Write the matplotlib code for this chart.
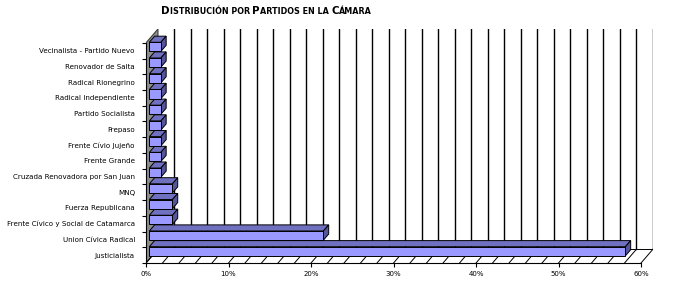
import numpy as np
import matplotlib
matplotlib.use("Agg")
import matplotlib.pyplot as plt
from matplotlib.patches import Polygon

# data (percent of seats), bottom to top
partidos = ["Justicialista", "Union Cívica Radical", "Frente Cívico y Social de Catamarca",
            "Fuerza Republicana", "MNQ", "Cruzada Renovadora por San Juan", "Frente Grande",
            "Frente Cívio Jujeño", "Frepaso", "Partido Socialista", "Radical Independiente",
            "Radical Rionegrino", "Renovador de Salta", "Vecinalista - Partido Nuevo"]
porcentajes = [57.7, 21.1, 2.8, 2.8, 2.8, 1.4, 1.4, 1.4, 1.4, 1.4, 1.4, 1.4, 1.4, 1.4]
xticks = [0, 10, 20, 30, 40, 50, 60]
xmax = 60

# fake 3d depth offsets (data units)
DX = 1.45
DY = 0.88
d0, d1 = 0.28, 0.72
hh = 0.29

W, H = 673, 285
fig = plt.figure(figsize=(W / 100, H / 100), dpi=100)
ax = fig.add_axes([146 / W, (H - 263) / H, (653 - 146) / W, (263 - 29) / H])
n = len(partidos)
ax.set_xlim(0, xmax + DX)
ax.set_ylim(-0.5, n - 0.5 + DY)

yb, yt = -0.5, n - 0.5

# side wall
ax.add_patch(Polygon([(0, yb), (DX, yb + DY), (DX, yt + DY), (0, yt)],
                     closed=True, facecolor="#8C8C8C", edgecolor="#404040", lw=0.8, zorder=1))
# floor lines
for v in np.arange(0, xmax + 0.1, 2):
    ax.plot([v, v + DX], [yb, yb + DY], color="black", lw=0.7, zorder=1)
ax.plot([DX, xmax + DX], [yb + DY, yb + DY], color="black", lw=0.7, zorder=1)
# back wall gridlines
for v in np.arange(2, xmax + 0.1, 2):
    ax.plot([v + DX, v + DX], [yb + DY, yt + DY], color="black", lw=1.0, zorder=1)

front_c, top_c, side_c = "#9999FF", "#7070C0", "#55559A"
for i in range(n - 1, -1, -1):
    v = porcentajes[i]
    x0, y0 = d0 * DX, i - hh + d0 * DY
    x1, y1 = v + d0 * DX, i + hh + d0 * DY
    ex, ey = (d1 - d0) * DX, (d1 - d0) * DY
    ax.add_patch(Polygon([(x0, y1), (x1, y1), (x1 + ex, y1 + ey), (x0 + ex, y1 + ey)],
                         facecolor=top_c, edgecolor="black", lw=0.7, zorder=3))
    ax.add_patch(Polygon([(x1, y0), (x1 + ex, y0 + ey), (x1 + ex, y1 + ey), (x1, y1)],
                         facecolor=side_c, edgecolor="black", lw=0.7, zorder=3))
    ax.add_patch(Polygon([(x0, y0), (x1, y0), (x1, y1), (x0, y1)],
                         facecolor=front_c, edgecolor="black", lw=0.7, zorder=4))

for s in ["top", "right"]:
    ax.spines[s].set_visible(False)
ax.spines["left"].set_bounds(yb, yt)
ax.spines["bottom"].set_bounds(0, xmax)
ax.spines["left"].set_zorder(5)

ax.set_xticks(xticks)
ax.set_xticklabels([f"{t}%" for t in xticks], fontsize=5)
ax.tick_params(axis="x", length=3, width=0.8, pad=3)
ax.set_yticks(range(n))
ax.set_yticklabels(partidos, fontsize=5.1)
ax.set_yticks(np.arange(-0.5, n, 1), minor=True)
ax.tick_params(axis="y", which="major", length=0, pad=8)
ax.tick_params(axis="y", which="minor", length=3, width=0.8)

# title in small caps, pieces laid out on one baseline
piezas = [("D", 7.4), ("ISTRIBUCIÓN POR ", 5.8), ("P", 7.4), ("ARTIDOS EN LA ", 5.8),
          ("C", 7.4), ("ÁMARA", 5.8)]
renderer = fig.canvas.get_renderer()
xpos = 161
for txt, fs in piezas:
    t = fig.text(xpos / W, 1 - 14.5 / H, txt, fontsize=fs, fontweight="bold",
                 va="baseline", ha="left")
    ancho = t.get_window_extent(renderer).width
    if txt.endswith(" "):
        ancho = fig.text(0, 0, txt.strip(), fontsize=fs, fontweight="bold").get_window_extent(renderer).width
        fig.texts[-1].remove()
        ancho += fs * 0.45
    xpos += ancho

fig.savefig("out.png", dpi=100)
